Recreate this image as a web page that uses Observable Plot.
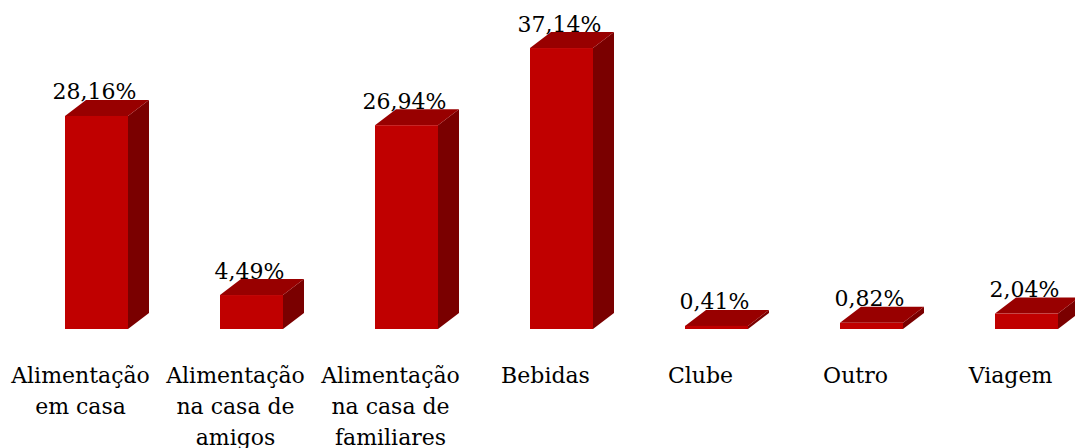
<!DOCTYPE html>
<html>
<head>
<meta charset="utf-8">
<script src="https://cdn.jsdelivr.net/npm/d3@7"></script>
<script src="https://cdn.jsdelivr.net/npm/@observablehq/plot@0.6"></script>
<style>
  html, body { margin: 0; padding: 0; background: #ffffff; }
  #chart svg { display: block; }
</style>
</head>
<body>
<div id="chart"></div>
<script>
const categories = [
  "Alimentação em casa",
  "Alimentação na casa de amigos",
  "Alimentação na casa de familiares",
  "Bebidas",
  "Clube",
  "Outro",
  "Viagem"
];
const tickLabels = [
  "Alimentação\nem casa",
  "Alimentação\nna casa de\namigos",
  "Alimentação\nna casa de\nfamiliares",
  "Bebidas",
  "Clube",
  "Outro",
  "Viagem"
];
const values = [28.16, 4.49, 26.94, 37.14, 0.41, 0.82, 2.04];
const valueLabels = ["28,16%", "4,49%", "26,94%", "37,14%", "0,41%", "0,82%", "2,04%"];

const data = categories.map((c, i) => ({
  category: c,
  value: values[i],
  tick: tickLabels[i],
  label: valueLabels[i]
}));

const FRONT = "#c00000";
const TOP = "#980000";
const SIDE = "#7a0000";
const DEPTH_X = 21, DEPTH_Y = -16;
const FONT = "DejaVu Serif";
const FS = 22;

// custom mark: top and side faces of each 3D bar, positioned through Plot's scales
function faces(index, scales) {
  const xs = scales.x, ys = scales.y;
  const bw = xs.bandwidth ? xs.bandwidth() : scales.scales.x.bandwidth;
  const g = d3.create("svg:g");
  for (const d of data) {
    const x0 = xs(d.category), x1 = x0 + bw;
    const yt = ys(d.value), yb = ys(0);
    g.append("polygon")
      .attr("fill", SIDE)
      .attr("points", [
        [x1, yt], [x1 + DEPTH_X, yt + DEPTH_Y], [x1 + DEPTH_X, yb + DEPTH_Y], [x1, yb]
      ].map(p => p.join(",")).join(" "));
    g.append("polygon")
      .attr("fill", TOP)
      .attr("points", [
        [x0, yt], [x0 + DEPTH_X, yt + DEPTH_Y], [x1 + DEPTH_X, yt + DEPTH_Y], [x1, yt]
      ].map(p => p.join(",")).join(" "));
  }
  return g.node();
}

const chart = Plot.plot({
  width: 1075,
  height: 448,
  marginLeft: 47.5,
  marginRight: 0.5,
  marginTop: 26.4,
  marginBottom: 119,
  style: { fontFamily: FONT, background: "#ffffff", color: "#000" },
  x: { domain: categories, paddingInner: 0.595, paddingOuter: 0.1, axis: null },
  y: { domain: [0, 40], axis: null },
  marks: [
    faces,
    Plot.barY(data, { x: "category", y: "value", fill: FRONT }),
    Plot.text(data, {
      x: "category", y: "value", text: "label",
      dx: -2.5, dy: -17, lineAnchor: "bottom",
      fontSize: FS, fontFamily: FONT, fill: "#000"
    }),
    Plot.text(data, {
      x: "category", frameAnchor: "bottom", text: "tick",
      dx: -16.5, dy: 32, lineAnchor: "top", lineHeight: 1.4,
      fontSize: FS, fontFamily: FONT, fill: "#000"
    })
  ]
});
document.getElementById("chart").append(chart);
</script>
</body>
</html>
